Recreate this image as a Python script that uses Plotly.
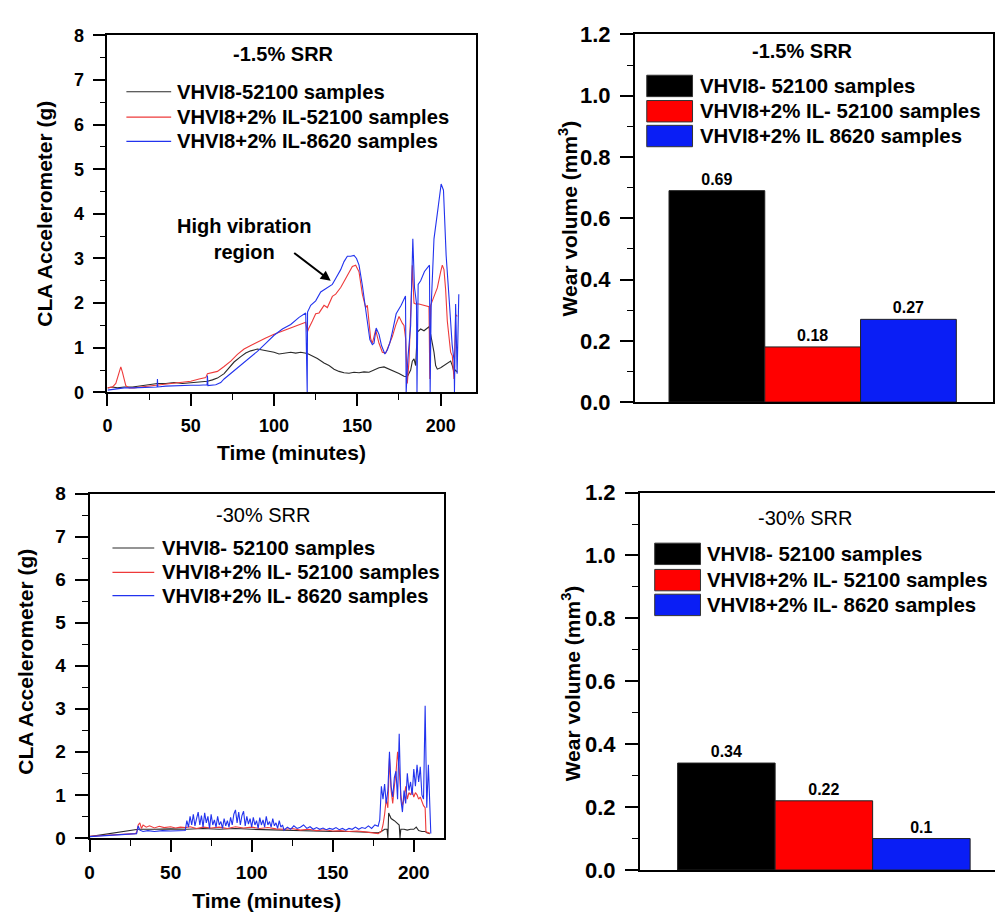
import plotly.graph_objects as go

# ---------------- DATA ----------------
# Top-left: -1.5% SRR accelerometer traces
tl_black_t = [0,3,6,10,15,20,25,30,35,40,45,50,55,60,63,66,70,73,76,80,83,86,90,93,96,100,103,106,110,113,
              116,120,123,126,130,133,136,139,142,145,148,151,154,157,160,163,166,169,172,175,178,180,182,183,184,
              185,186,188,190,192,193,194,195,196,197,198,200,202,204,206,207,208,209,210]
tl_black_v = [0.1,0.12,0.1,0.12,0.12,0.15,0.18,0.2,0.2,0.22,0.2,0.22,0.24,0.25,0.28,0.32,0.42,0.55,0.68,0.8,
              0.88,0.93,0.97,0.95,0.93,0.9,0.86,0.88,0.9,0.88,0.9,0.87,0.82,0.76,0.66,0.6,0.52,0.47,0.44,0.43,
              0.45,0.44,0.46,0.45,0.5,0.55,0.57,0.52,0.48,0.42,0.36,0.35,0.5,0.7,0.75,0.6,1.35,1.42,1.38,1.45,
              1.47,1.3,1.1,0.9,0.6,0.52,0.55,0.6,0.65,0.7,0.6,0.45,0.5,0.45]

tl_red_t = [0,3,5,7,8,9,11,13,16,20,25,30,35,40,45,50,55,59,60,63,66,70,74,78,82,86,90,95,100,105,110,115,119,
            120,121,123,125,127,130,132,135,137,140,143,145,147,149,151,153,155,156,157,158,159,161,163,165,167,
            169,171,173,175,177,178,179,180,181,182,183,184,185,187,190,193,193.5,194,195,198,200,201,202,203,204,
            205,206,207,208,208.5,209,210]
tl_red_v = [0.1,0.12,0.2,0.45,0.57,0.45,0.15,0.1,0.1,0.12,0.14,0.16,0.18,0.2,0.22,0.25,0.3,0.33,0.42,0.44,0.47,
            0.58,0.7,0.85,0.97,1.05,1.13,1.22,1.3,1.37,1.45,1.52,1.57,1.35,1.45,1.6,1.76,1.78,1.95,1.9,2.15,2.2,
            2.35,2.55,2.7,2.82,2.85,2.7,2.2,1.9,1.95,1.6,1.2,1.1,1.4,1.1,0.9,0.88,1.05,1.25,1.5,1.7,1.55,1.5,1.2,
            0.2,0.7,1.6,2.85,2.0,1.98,1.98,1.95,1.92,0.3,1.95,2.05,2.34,2.7,2.85,2.75,2.3,1.6,1.2,0.9,0.82,0.3,
            1.0,1.74,1.7]

tl_blue_t = [0,5,10,15,20,25,29.8,30,30.2,35,40,45,50,55,59.8,60,60.3,65,68,70,75,80,85,90,95,100,105,110,115,
             119,119.9,120.1,122,125,128,131,133,135,137,140,142,144,146,148,149.5,151,153,154.5,156,157.5,159,160,
             161.3,163,164.5,166.5,168,169.5,171,173.3,176.3,178.9,179.3,180.3,182,183.3,184.3,185.5,185.8,186.5,
             188,190.3,193.3,193.7,194.3,196,198.3,200.3,201.7,203.3,205.3,206.9,208.1,208.3,209,209.9,210.9]
tl_blue_v = [0.05,0.07,0.1,0.1,0.11,0.12,0.12,0.3,0.12,0.14,0.15,0.15,0.16,0.16,0.17,0.38,0.15,0.17,0.22,0.3,
             0.45,0.62,0.75,0.92,1.1,1.28,1.42,1.52,1.68,1.78,0.0,1.8,1.95,2.05,2.25,2.32,2.38,2.42,2.55,2.75,2.93,
             3.05,3.05,3.07,3.0,2.85,2.4,1.98,1.6,1.18,1.07,1.1,1.44,1.3,1.05,0.86,0.95,1.11,1.35,1.76,1.95,2.16,
             0.0,0.74,1.5,3.44,2.35,2.0,0.0,2.42,2.5,2.71,2.85,0.0,1.9,3.44,4.09,4.67,4.53,3.07,1.98,1.07,0.7,0.0,
             1.98,0.42,2.2]

# Bottom-left: -30% SRR accelerometer traces
bl_black_t = [0,5,10,15,20,25,30,40,50,60,70,80,90,100,110,120,130,140,150,160,170,175,178,180,182,183.5,184,
              184.5,186,188,190,191,191.5,192,194,196,198,200,201.5,203,205,207,208,210]
bl_black_v = [0.03,0.06,0.08,0.12,0.15,0.17,0.2,0.2,0.21,0.2,0.22,0.2,0.22,0.2,0.19,0.17,0.16,0.16,0.15,0.15,
              0.14,0.13,0.12,0.15,0.2,0.2,0.0,0.58,0.45,0.4,0.33,0.3,0.0,0.2,0.2,0.18,0.2,0.2,0.25,0.17,0.15,0.15,
              0.12,0.1]

bl_red_t = [0,10,20,28,29,30,31,32,33,35,37,40,43,46,50,53,56,59,62,66,70,75,80,85,90,95,100,105,110,115,120,
            125,130,135,140,145,150,155,160,165,170,175,178,180,181,182,183,184,185,186,187,188,189,190,191,192,
            193,194,195,196,197,198,199,200,201,202,203,204,205,206,207,207.5,209,210]
bl_red_v = [0.04,0.06,0.08,0.1,0.12,0.3,0.35,0.22,0.3,0.25,0.28,0.23,0.27,0.24,0.26,0.23,0.25,0.24,0.26,0.22,
            0.25,0.23,0.25,0.22,0.26,0.23,0.25,0.22,0.24,0.21,0.2,0.22,0.18,0.2,0.17,0.19,0.16,0.17,0.15,0.16,
            0.14,0.12,0.1,0.15,0.3,0.55,0.9,0.7,1.85,1.1,0.8,1.2,1.5,2.0,1.6,1.0,0.75,0.9,1.2,0.9,1.05,1.0,1.1,
            0.95,1.05,1.0,0.9,0.95,0.85,0.75,0.7,0.14,0.12,0.1]

bl_blue_t = [0,10,20,28,29,30,31,33,36,40,45,50,55,58,59,60,61,62,63,64,65,66,67,68,69,70,71,72,73,74,75,76,77,
             78,79,80,81,82,83,84,85,86,87,88,89,90,91,92,93,94,95,96,97,98,99,100,101,102,103,104,105,106,107,
             108,109,110,111,112,113,114,115,116,117,118,119,120,122,124,126,128,130,132,134,136,138,140,142,144,
             146,148,150,152,154,156,158,160,162,164,166,168,170,172,174,176,178,179,180,181,182,183,184,185,186,
             187,188,189,190,191,192,193,194,195,196,197,198,199,200,201,202,203,204,205,206,207,207.5,208,209,
             210,210.5]
bl_blue_v = [0.03,0.05,0.07,0.09,0.1,0.28,0.18,0.15,0.17,0.15,0.17,0.16,0.17,0.16,0.17,0.4,0.25,0.5,0.3,0.55,
             0.28,0.45,0.6,0.3,0.52,0.25,0.58,0.35,0.5,0.22,0.55,0.3,0.42,0.25,0.5,0.3,0.38,0.22,0.45,0.28,0.4,
             0.25,0.48,0.3,0.55,0.65,0.35,0.6,0.3,0.52,0.62,0.28,0.5,0.32,0.45,0.25,0.48,0.3,0.4,0.22,0.47,0.3,
             0.42,0.25,0.5,0.3,0.38,0.25,0.45,0.28,0.35,0.22,0.4,0.25,0.3,0.18,0.25,0.2,0.28,0.22,0.25,0.3,0.22,
             0.26,0.2,0.24,0.2,0.23,0.19,0.22,0.2,0.24,0.19,0.22,0.18,0.22,0.2,0.25,0.2,0.24,0.22,0.28,0.22,0.3,
             0.27,0.42,1.2,0.9,1.25,0.8,1.1,2.0,1.2,0.95,1.4,1.55,0.9,2.42,0.9,0.6,1.1,0.8,1.5,1.1,1.3,1.0,1.6,
             1.2,1.7,1.3,1.65,1.0,0.9,3.07,1.8,0.7,1.7,0.35,0.1]

# Bar charts: wear volume (mm^3)
bar_pos = [1, 2, 3]
bar_colors = ["#000000", "#ff0000", "#0a1ef5"]
tr_values = [0.69, 0.18, 0.27]
br_values = [0.34, 0.22, 0.1]

tl_labels = ["VHVI8-52100 samples", "VHVI8+2% IL-52100 samples", "VHVI8+2% IL-8620 samples"]
tr_labels = ["VHVI8- 52100 samples", "VHVI8+2% IL- 52100 samples", "VHVI8+2% IL 8620 samples"]
bl_labels = ["VHVI8- 52100 samples", "VHVI8+2% IL- 52100 samples", "VHVI8+2% IL- 8620 samples"]
br_labels = ["VHVI8- 52100 samples", "VHVI8+2% IL- 52100 samples", "VHVI8+2% IL- 8620 samples"]
line_colors = ["#2a2a2a", "#ee3a3a", "#2233ee"]

# ---------------- LAYOUT HELPERS ----------------
W, H = 995, 919
def PX(x): return x / W
def PY(y): return 1 - y / H

FONT = "Arial, Liberation Sans, sans-serif"

fig = go.Figure()

def add_lines(ts, vs, xa, ya):
    for t, v, c in zip(ts, vs, line_colors):
        fig.add_trace(go.Scatter(x=t, y=v, mode="lines", line=dict(color=c, width=1.1),
                                 xaxis=xa, yaxis=ya, showlegend=False, hoverinfo="skip"))

add_lines([tl_black_t, tl_red_t, tl_blue_t], [tl_black_v, tl_red_v, tl_blue_v], "x", "y")
add_lines([bl_black_t, bl_red_t, bl_blue_t], [bl_black_v, bl_red_v, bl_blue_v], "x3", "y3")

for vals, xa, ya in [(tr_values, "x2", "y2"), (br_values, "x4", "y4")]:
    fig.add_trace(go.Bar(x=bar_pos, y=vals, width=1, marker=dict(color=bar_colors, line=dict(color="#222", width=1)),
                         text=[str(v) for v in vals], textposition="outside", cliponaxis=False,
                         textfont=dict(family=FONT, size=16, color="black", weight="bold"),
                         xaxis=xa, yaxis=ya, showlegend=False, hoverinfo="skip"))

def xax(domain, rng, ticks=True, tickfs=17, standoff=6):
    d = dict(domain=domain, range=rng, showline=True, linecolor="black", linewidth=1.8, mirror=True,
             showgrid=False, zeroline=False)
    if ticks:
        d.update(ticks="outside", ticklen=12, tickwidth=1.6, tickcolor="black", dtick=50, tick0=0,
                 tickfont=dict(family=FONT, size=tickfs, color="black", weight="bold"),
                 ticklabelstandoff=standoff,
                 minor=dict(ticks="outside", ticklen=6, tickwidth=1.4, tickcolor="black", dtick=25, tick0=0))
    else:
        d.update(showticklabels=False, ticks="")
    return d

def yax(domain, rng, dtick, mdtick, tickfs, fmt=None, mirror=True, standoff=6):
    d = dict(domain=domain, range=rng, showline=True, linecolor="black", linewidth=1.8, mirror=mirror,
             showgrid=False, zeroline=False, ticks="outside", ticklen=13, tickwidth=1.6, tickcolor="black",
             dtick=dtick, tick0=0, tickfont=dict(family=FONT, size=tickfs, color="black", weight="bold"),
             ticklabelstandoff=standoff,
             minor=dict(ticks="outside", ticklen=6, tickwidth=1.4, tickcolor="black", dtick=mdtick, tick0=0))
    if fmt:
        d["tickformat"] = fmt
    return d

xaxis3 = xax([PX(85), PX(441)], [0, 218.5], tickfs=19, standoff=4)
xaxis3["title"] = dict(text="Time (minutes)", standoff=12,
                       font=dict(family=FONT, size=21, color="black", weight="bold"))

fig.update_layout(
    width=W, height=H, margin=dict(l=0, r=0, t=0, b=0),
    paper_bgcolor="white", plot_bgcolor="white",
    xaxis=xax([PX(103), PX(473)], [0, 221], tickfs=18, standoff=4),
    yaxis=yax([PY(391), PY(24)], [0, 8], 1, 0.5, 18, standoff=5),
    xaxis2=xax([PX(633), PX(993)], [0.143, 3.883], ticks=False),
    yaxis2=yax([PY(401), PY(23)], [0, 1.2], 0.2, 0.1, 22, fmt=".1f", standoff=5),
    xaxis3=xaxis3,
    yaxis3=yax([PY(849), PY(495)], [0, 8], 1, 0.5, 19, standoff=5),
    xaxis4=xax([PX(638), 1.0], [0.112, 3.755], ticks=False),
    yaxis4=yax([PY(882), PY(494)], [0, 1.2], 0.2, 0.1, 22, fmt=".1f", mirror=False, standoff=5),
)
fig.update_layout(xaxis2_anchor="y2", yaxis2_anchor="x2", xaxis3_anchor="y3", yaxis3_anchor="x3",
                  xaxis4_anchor="y4", yaxis4_anchor="x4")

ann = []
shapes = []
def text(x, y, s, size=20, bold=True, angle=0, xanchor="center", yanchor="middle"):
    ann.append(dict(x=PX(x), y=PY(y), xref="paper", yref="paper", text=s, showarrow=False,
                    textangle=angle, xanchor=xanchor, yanchor=yanchor,
                    font=dict(family=FONT, size=size, color="black", weight="bold" if bold else "normal")))

# axis titles
text(40, 207.5, "CLA Accelerometer (g)", size=21, angle=-90)
text(287.5, 453, "Time (minutes)", size=21)
text(21, 668, "CLA Accelerometer (g)", size=21, angle=-90)
text(566, 212, "Wear volume (mm<sup>3</sup>)", size=21, angle=-90)
text(569, 690, "Wear volume (mm<sup>3</sup>)", size=21, angle=-90)

# panel titles
text(280, 43, "-1.5% SRR")
text(802, 40, "-1.5% SRR")
text(259, 517, "-30% SRR", bold=False)
text(804, 520, "-30% SRR", bold=False)

# high vibration annotation
text(240, 233, "High vibration<br>region")
ann.append(dict(x=134, y=2.5, xref="x", yref="y", ax=-38, ay=-29, text="", showarrow=True,
                arrowhead=2, arrowsize=1, arrowwidth=2, arrowcolor="black"))

# legends
def line_legend(x0, x1, xt, rows, labels):
    for r, lab, c in zip(rows, labels, line_colors):
        shapes.append(dict(type="line", xref="paper", yref="paper", x0=PX(x0), x1=PX(x1), y0=PY(r), y1=PY(r),
                           line=dict(color=c, width=1.2)))
        text(xt, r, lab, size=20.2, xanchor="left")

def box_legend(x0, x1, xt, rows, labels, h=22):
    for r, lab, c in zip(rows, labels, bar_colors):
        shapes.append(dict(type="rect", xref="paper", yref="paper", x0=PX(x0), x1=PX(x1),
                           y0=PY(r + h / 2), y1=PY(r - h / 2), fillcolor=c, line=dict(color="#333", width=1)))
        text(xt, r, lab, size=20.4, xanchor="left")

line_legend(122, 167, 171, [82, 108, 133], tl_labels)
line_legend(108, 150, 156, [551, 576, 600], bl_labels)
box_legend(645, 691, 696, [76, 102, 127.5], tr_labels)
box_legend(653, 699, 704, [557, 584, 609.5], br_labels)

fig.update_layout(annotations=ann, shapes=shapes)
fig.write_html("out.html")
